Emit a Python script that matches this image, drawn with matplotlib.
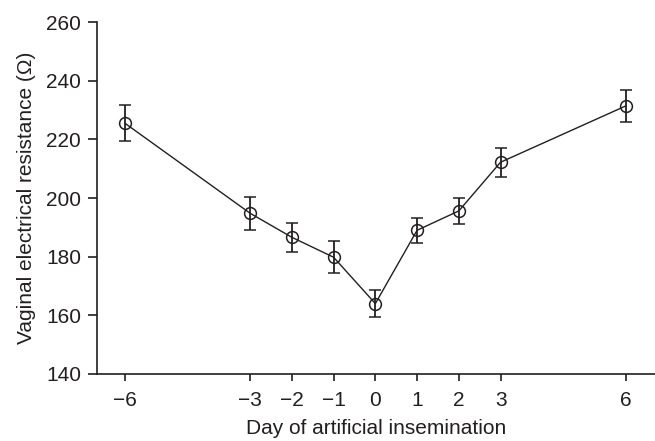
import numpy as np
import matplotlib.pyplot as plt

plt.rcParams['font.family'] = ['Liberation Sans', 'DejaVu Sans']

days = [-6, -3, -2, -1, 0, 1, 2, 3, 6]
resistance = [225.5, 194.8, 186.6, 179.8, 164.0, 189.0, 195.6, 212.2, 231.4]
sem = [6.2, 5.7, 5.0, 5.5, 4.6, 4.2, 4.5, 5.0, 5.4]
x_ticks = [-6, -3, -2, -1, 0, 1, 2, 3, 6]
y_ticks = [140, 160, 180, 200, 220, 240, 260]

ink = '#231f20'

fig = plt.figure(figsize=(6.55, 4.41), dpi=100)
ax = fig.add_axes([0.148, 0.152, 0.852, 0.798])

ax.errorbar(days, resistance, yerr=sem, color=ink, lw=1.0, elinewidth=1.3,
            capsize=4.6, capthick=1.3, marker='o', markersize=8.5,
            markerfacecolor='none', markeredgecolor=ink, markeredgewidth=1.1)

ax.set_xlim(-6.67, 6.7)
ax.set_ylim(140, 260)
ax.set_xticks(x_ticks)
ax.set_xticklabels([str(d).replace('-', '\u2212') for d in x_ticks])
ax.set_yticks(y_ticks)

for s in ['top', 'right']:
    ax.spines[s].set_visible(False)
for s in ['left', 'bottom']:
    ax.spines[s].set_color(ink)
    ax.spines[s].set_linewidth(1.2)

ax.tick_params(axis='both', direction='out', width=1.2,
               colors=ink, labelsize=15, labelcolor=ink)
ax.tick_params(axis='x', length=5, pad=7)
ax.tick_params(axis='y', length=6.5, pad=5)

ax.set_xlabel('Day of artificial insemination', fontsize=15, color=ink, labelpad=7)
ax.set_ylabel('Vaginal electrical resistance (\u03a9)', fontsize=15, color=ink, labelpad=7)

fig.savefig('out.png', dpi=100)
